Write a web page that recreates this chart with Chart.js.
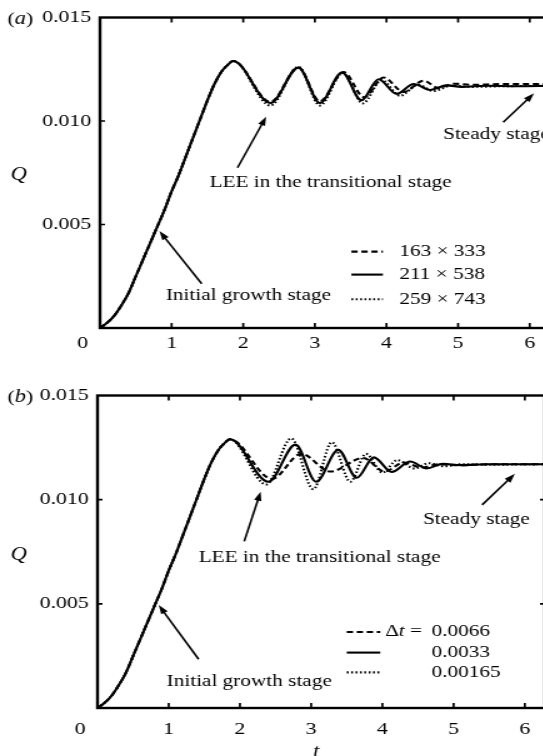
<!DOCTYPE html>
<html>
<head>
<meta charset="utf-8">
<script src="https://cdn.jsdelivr.net/npm/chart.js@4.4.1/dist/chart.umd.min.js"></script>
<style>
  html, body { margin: 0; padding: 0; background: #fff; overflow: hidden; width: 543px; height: 756px; }
  /* the figure is printed slightly wider than tall, so each panel is stretched horizontally */
  .panel { position: absolute; left: 0; width: 448px; height: 378px; transform: scaleX(1.25); transform-origin: 0 0; }
  #wrapA { top: 0; }
  #wrapB { top: 378px; }
  canvas { display: block; }
</style>
</head>
<body>
<div class="panel" id="wrapA"><canvas id="panelA" width="448" height="378"></canvas></div>
<div class="panel" id="wrapB"><canvas id="panelB" width="448" height="378"></canvas></div>
<script>
// shared start-up: all runs coincide up to the first overshoot
const tGrowth = [0, 0.1, 0.2, 0.3, 0.4, 0.5, 0.6, 0.7, 0.8, 0.9, 1.0, 1.1, 1.2, 1.3, 1.4, 1.5, 1.6, 1.7, 1.78, 1.86];
const qGrowth = [0, 0.00025, 0.0006, 0.0011, 0.0017, 0.0025, 0.0033, 0.0041, 0.0049, 0.0057, 0.0066, 0.0074, 0.0083, 0.0092, 0.0101, 0.0110, 0.0118, 0.0124, 0.0127, 0.0129];

// (a) grid resolution study
const tGrid163 = [2.38, 2.77, 3.07, 3.40, 3.69, 3.96, 4.24, 4.52, 4.72, 4.95, 5.2, 5.6, 6.3];
const qGrid163 = [0.01092, 0.01258, 0.01095, 0.01236, 0.01115, 0.0121, 0.0114, 0.01195, 0.0116, 0.0118, 0.01175, 0.01178, 0.01178];
const tGrid211 = [2.38, 2.77, 3.07, 3.38, 3.65, 3.89, 4.14, 4.38, 4.61, 4.84, 5.05, 5.4, 5.8, 6.3];
const qGrid211 = [0.01087, 0.01258, 0.01087, 0.01234, 0.0110, 0.01202, 0.01131, 0.01179, 0.0115, 0.01172, 0.01165, 0.0117, 0.01168, 0.0117];
const tGrid259 = [2.38, 2.77, 3.07, 3.39, 3.67, 3.93, 4.19, 4.44, 4.66, 4.9, 5.2, 5.6, 6.3];
const qGrid259 = [0.01075, 0.01262, 0.01075, 0.01232, 0.01085, 0.01198, 0.01122, 0.01175, 0.01145, 0.0117, 0.01165, 0.01168, 0.0117];

// (b) time step study
const tDt0066 = [2.45, 2.86, 3.27, 3.73, 4.03, 4.30, 4.55, 4.8, 5.1, 5.5, 6.3];
const qDt0066 = [0.0110, 0.0122, 0.01135, 0.0120, 0.01135, 0.01178, 0.01155, 0.0117, 0.01165, 0.0117, 0.0117];
const tDt0033 = [2.40, 2.78, 3.07, 3.38, 3.64, 3.88, 4.13, 4.39, 4.62, 4.85, 5.1, 5.5, 6.3];
const qDt0033 = [0.01086, 0.01264, 0.01086, 0.01239, 0.01105, 0.01203, 0.01133, 0.01183, 0.0115, 0.01172, 0.01166, 0.0117, 0.0117];
const tDt00165 = [2.37, 2.72, 3.03, 3.29, 3.55, 3.77, 4.00, 4.21, 4.45, 4.65, 4.87, 5.1, 5.5, 6.3];
const qDt00165 = [0.01073, 0.01294, 0.0105, 0.01276, 0.01086, 0.0122, 0.0113, 0.0119, 0.0115, 0.01175, 0.0116, 0.0117, 0.01168, 0.0117];

const gridLabels = ['163 \u00d7 333', '211 \u00d7 538', '259 \u00d7 743'];
const dtLabels = ['0.0066', '0.0033', '0.00165'];
const xTicks = [0, 1, 2, 3, 4, 5, 6];
const yTicks = [0, 0.005, 0.010, 0.015];

const SERIF = '"Liberation Serif", "Times New Roman", serif';
const DASHES = [[5, 3], [], [1.5, 2]];

function points(tTail, qTail) {
  const t = tGrowth.concat(tTail), q = qGrowth.concat(qTail);
  return t.map((v, i) => ({ x: v, y: q[i] }));
}

function series(label, pts, k) {
  return {
    label: label,
    data: pts,
    borderColor: '#000',
    borderWidth: 2.1,
    borderDash: DASHES[k],
    pointRadius: 0,
    cubicInterpolationMode: 'monotone',
    fill: false
  };
}

function arrow(ctx, x0, y0, x1, y1) {
  const a = Math.atan2(y1 - y0, x1 - x0), L = 9, W = 3;
  ctx.beginPath();
  ctx.moveTo(x0, y0);
  ctx.lineTo(x1 - L * 0.8 * Math.cos(a), y1 - L * 0.8 * Math.sin(a));
  ctx.stroke();
  ctx.beginPath();
  ctx.moveTo(x1, y1);
  ctx.lineTo(x1 - L * Math.cos(a) + W * Math.sin(a), y1 - L * Math.sin(a) - W * Math.cos(a));
  ctx.lineTo(x1 - L * Math.cos(a) - W * Math.sin(a), y1 - L * Math.sin(a) + W * Math.cos(a));
  ctx.closePath();
  ctx.fill();
}

// frame with inward ticks, panel letter, axis symbols, notes and the key
const decor = {
  id: 'decor',
  afterDraw(chart, args, o) {
    const { ctx, chartArea: a, scales: { x, y } } = chart;
    const X = v => x.getPixelForValue(v), Y = v => y.getPixelForValue(v);
    ctx.save();
    ctx.strokeStyle = '#000';
    ctx.fillStyle = '#000';
    ctx.lineWidth = 2.4;
    ctx.strokeRect(a.left, a.top, a.right - a.left, a.bottom - a.top);
    ctx.lineWidth = 1.7;
    ctx.beginPath();
    xTicks.slice(1).forEach(v => {
      const px = X(v);
      ctx.moveTo(px, a.bottom); ctx.lineTo(px, a.bottom - 5);
      ctx.moveTo(px, a.top); ctx.lineTo(px, a.top + 5);
    });
    yTicks.slice(1, 3).forEach(v => {
      const py = Y(v);
      ctx.moveTo(a.left, py); ctx.lineTo(a.left + 4, py);
      ctx.moveTo(a.right, py); ctx.lineTo(a.right - 4, py);
    });
    ctx.stroke();

    const big = '17.5px ' + SERIF, bigIt = 'italic 18px ' + SERIF;
    const up = '17px ' + SERIF, it = 'italic 17px ' + SERIF;
    ctx.textBaseline = 'middle';
    ctx.textAlign = 'left';
    // panel letter
    ctx.font = big;
    let px = 6;
    const ly = Y(0.015) + 1.5;
    ctx.fillText('(', px, ly); px += ctx.measureText('(').width;
    ctx.font = bigIt; ctx.fillText(o.letter, px, ly); px += ctx.measureText(o.letter).width;
    ctx.font = big; ctx.fillText(')', px, ly);
    // origin and axis symbols
    ctx.textAlign = 'center';
    ctx.fillText('0', a.left - 14, a.bottom + o.tickGap);
    ctx.font = bigIt;
    ctx.fillText('Q', 15, o.qY);
    if (o.tLabel) ctx.fillText('t', X(3.07), a.bottom + 44);

    // notes with arrows
    ctx.font = up;
    ctx.textAlign = 'left';
    o.texts.forEach(n => ctx.fillText(n.text, X(n.t), Y(n.q)));
    ctx.lineWidth = 1.6;
    o.arrows.forEach(r => arrow(ctx, X(r.from[0]), Y(r.from[1]), X(r.to[0]), Y(r.to[1])));

    // key
    const k = o.key;
    chart.data.datasets.forEach((ds, i) => {
      const py = Y(k.q[i]);
      ctx.save();
      ctx.lineWidth = ds.borderWidth;
      ctx.setLineDash(ds.borderDash);
      ctx.beginPath();
      ctx.moveTo(X(k.t0), py); ctx.lineTo(X(k.t1), py);
      ctx.stroke();
      ctx.restore();
      ctx.font = up;
      ctx.fillText(ds.label, X(k.tText), py);
    });
    if (k.prefix) {
      const py = Y(k.q[0]);
      let qx = X(k.tPrefix);
      ctx.font = up; ctx.fillText('\u0394', qx, py); qx += ctx.measureText('\u0394').width;
      ctx.font = it; ctx.fillText('t', qx, py); qx += ctx.measureText('t').width;
      ctx.font = up; ctx.fillText(' =', qx, py);
    }
    ctx.restore();
  }
};

function makeChart(id, datasets, o) {
  return new Chart(document.getElementById(id), {
    type: 'line',
    data: { datasets: datasets },
    options: {
      responsive: false,
      animation: false,
      devicePixelRatio: 1,
      layout: { padding: { top: o.padTop, right: o.padRight, left: 0, bottom: 0 } },
      plugins: { legend: { display: false }, tooltip: { enabled: false }, decor: o },
      scales: {
        x: {
          type: 'linear',
          min: 0,
          max: 2 * Math.PI,
          grid: { display: false, drawTicks: false, tickLength: 0 },
          border: { display: false },
          ticks: {
            padding: o.xPad,
            color: '#000',
            font: { family: SERIF, size: 17.5 },
            maxRotation: 0,
            autoSkip: false,
            callback: v => (v === 0 ? '' : v)
          },
          afterBuildTicks: s => { s.ticks = xTicks.map(v => ({ value: v })); },
          afterFit: s => { s.height = o.xHeight; }
        },
        y: {
          min: 0,
          max: 0.015,
          grid: { display: false, drawTicks: false, tickLength: 0 },
          border: { display: false },
          ticks: {
            padding: 7,
            color: '#000',
            font: { family: SERIF, size: 17.5 },
            callback: v => (v === 0 ? '' : v.toFixed(3))
          },
          afterBuildTicks: s => { s.ticks = yTicks.map(v => ({ value: v })); },
          afterFit: s => { s.width = o.yWidth; }
        }
      }
    },
    plugins: [decor]
  });
}

makeChart('panelA', [
  series(gridLabels[0], points(tGrid163, qGrid163), 0),
  series(gridLabels[1], points(tGrid211, qGrid211), 1),
  series(gridLabels[2], points(tGrid259, qGrid259), 2)
], {
  letter: 'a', padTop: 14, padRight: 8, yWidth: 80, xHeight: 50, xPad: 5, tickGap: 15, qY: 175, tLabel: false,
  texts: [
    { text: 'Initial growth stage', t: 0.92, q: 0.00159 },
    { text: 'LEE in the transitional stage', t: 1.53, q: 0.00704 },
    { text: 'Steady stage', t: 4.79, q: 0.00935 }
  ],
  arrows: [
    { from: [1.42, 0.00214], to: [0.83, 0.00468] },
    { from: [1.92, 0.00774], to: [2.32, 0.01021] },
    { from: [5.63, 0.00994], to: [6.06, 0.01134] }
  ],
  key: { t0: 3.51, t1: 3.95, tText: 4.18, q: [0.00369, 0.00258, 0.00139] }
});

makeChart('panelB', [
  series(dtLabels[0], points(tDt0066, qDt0066), 0),
  series(dtLabels[1], points(tDt0033, qDt0033), 1),
  series(dtLabels[2], points(tDt00165, qDt00165), 2)
], {
  letter: 'b', padTop: 12, padRight: 12, yWidth: 78, xHeight: 48, xPad: 11, tickGap: 21, qY: 177, tLabel: true,
  texts: [
    { text: 'Initial growth stage', t: 0.97, q: 0.00127 },
    { text: 'LEE in the transitional stage', t: 1.42, q: 0.00722 },
    { text: 'Steady stage', t: 4.57, q: 0.00904 }
  ],
  arrows: [
    { from: [1.42, 0.00234], to: [0.86, 0.00494] },
    { from: [2.06, 0.0080], to: [2.29, 0.01038] },
    { from: [5.40, 0.00975], to: [5.86, 0.01124] }
  ],
  key: { t0: 3.50, t1: 3.97, tText: 4.69, tPrefix: 4.04, prefix: true, q: [0.00365, 0.00266, 0.00171] }
});
</script>
</body>
</html>
